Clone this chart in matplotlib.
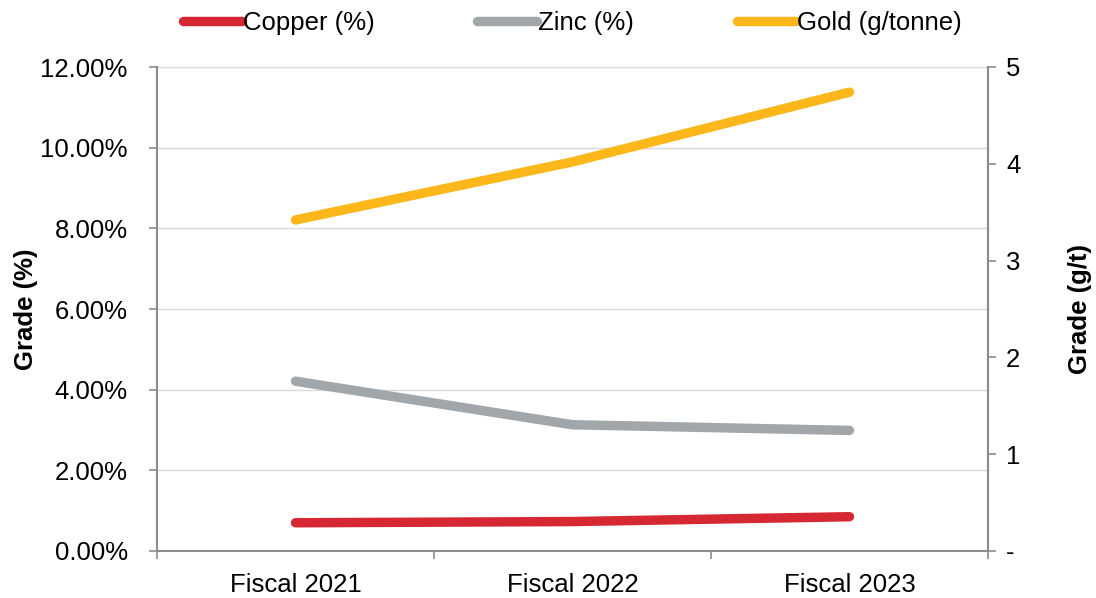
import matplotlib
matplotlib.use("Agg")
import matplotlib.pyplot as plt
from matplotlib.ticker import FuncFormatter

plt.rcParams['font.family'] = ['Liberation Sans', 'DejaVu Sans']

categories = ["Fiscal 2021", "Fiscal 2022", "Fiscal 2023"]
copper = [0.70, 0.73, 0.85]     # %
zinc = [4.21, 3.13, 2.99]       # %
gold = [3.42, 4.02, 4.74]       # g/t
left_ticks = [0, 2, 4, 6, 8, 10, 12]
right_ticks = [0, 1, 2, 3, 4, 5]

c_copper = "#D52833"
c_zinc = "#A0A6A9"
c_gold = "#FDB71A"
spine_c = "#8C8C8C"
grid_c = "#D9D9D9"
fs = 18.5

fig = plt.figure(figsize=(10.96, 5.98), dpi=100)
ax = fig.add_axes([157/1096, 1-551/598, 831/1096, 484/598])
ax2 = ax.twinx()

x = list(range(len(categories)))
lw = 6.8
l1, = ax.plot(x, copper, color=c_copper, lw=lw, solid_capstyle='round', solid_joinstyle='round', label="Copper (%)", zorder=3)
l2, = ax.plot(x, zinc, color=c_zinc, lw=lw, solid_capstyle='round', solid_joinstyle='round', label="Zinc (%)", zorder=3)
l3, = ax2.plot(x, gold, color=c_gold, lw=lw, solid_capstyle='round', solid_joinstyle='round', label="Gold (g/tonne)", zorder=3)

ax.set_xlim(-0.5, len(categories) - 0.5)
ax.set_ylim(0, 12)
ax2.set_ylim(0, 5)

ax.set_yticks(left_ticks)
ax.yaxis.set_major_formatter(FuncFormatter(lambda v, p: f"{v:.2f}%"))
ax2.set_yticks(right_ticks)
ax2.yaxis.set_major_formatter(FuncFormatter(lambda v, p: "-" if v == 0 else f"{v:g}"))

ax.set_xticks(x)
ax.set_xticklabels(categories)
ax.set_xticks([i - 0.5 for i in range(len(categories) + 1)], minor=True)
ax.tick_params(axis='x', which='major', length=0, pad=16, labelsize=fs)
ax.tick_params(axis='x', which='minor', length=6, width=1.2, color=spine_c)
ax.tick_params(axis='y', length=6, width=1.2, color=spine_c, pad=15, labelsize=fs)
ax2.tick_params(axis='y', length=6, width=1.2, color=spine_c, pad=7, labelsize=fs)

ax.grid(axis='y', color=grid_c, lw=1)
ax.set_axisbelow(True)

for a in (ax, ax2):
    a.spines['top'].set_visible(False)
    for s in ('left', 'right', 'bottom'):
        a.spines[s].set_color(spine_c)
        a.spines[s].set_linewidth(1.5)
ax2.spines['left'].set_visible(False)
ax2.spines['bottom'].set_visible(False)

ax.set_ylabel("Grade (%)", fontsize=fs, fontweight='bold', labelpad=2)
ax2.set_ylabel("Grade (g/t)", fontsize=fs, fontweight='bold', labelpad=34)

fig.legend(handles=[l1, l2, l3], loc='upper center', bbox_to_anchor=(0.522, 1.02),
           ncol=3, frameon=False, fontsize=fs, handlelength=2.3, handletextpad=0.05,
           columnspacing=4.0)

fig.savefig("out.png", dpi=100)
